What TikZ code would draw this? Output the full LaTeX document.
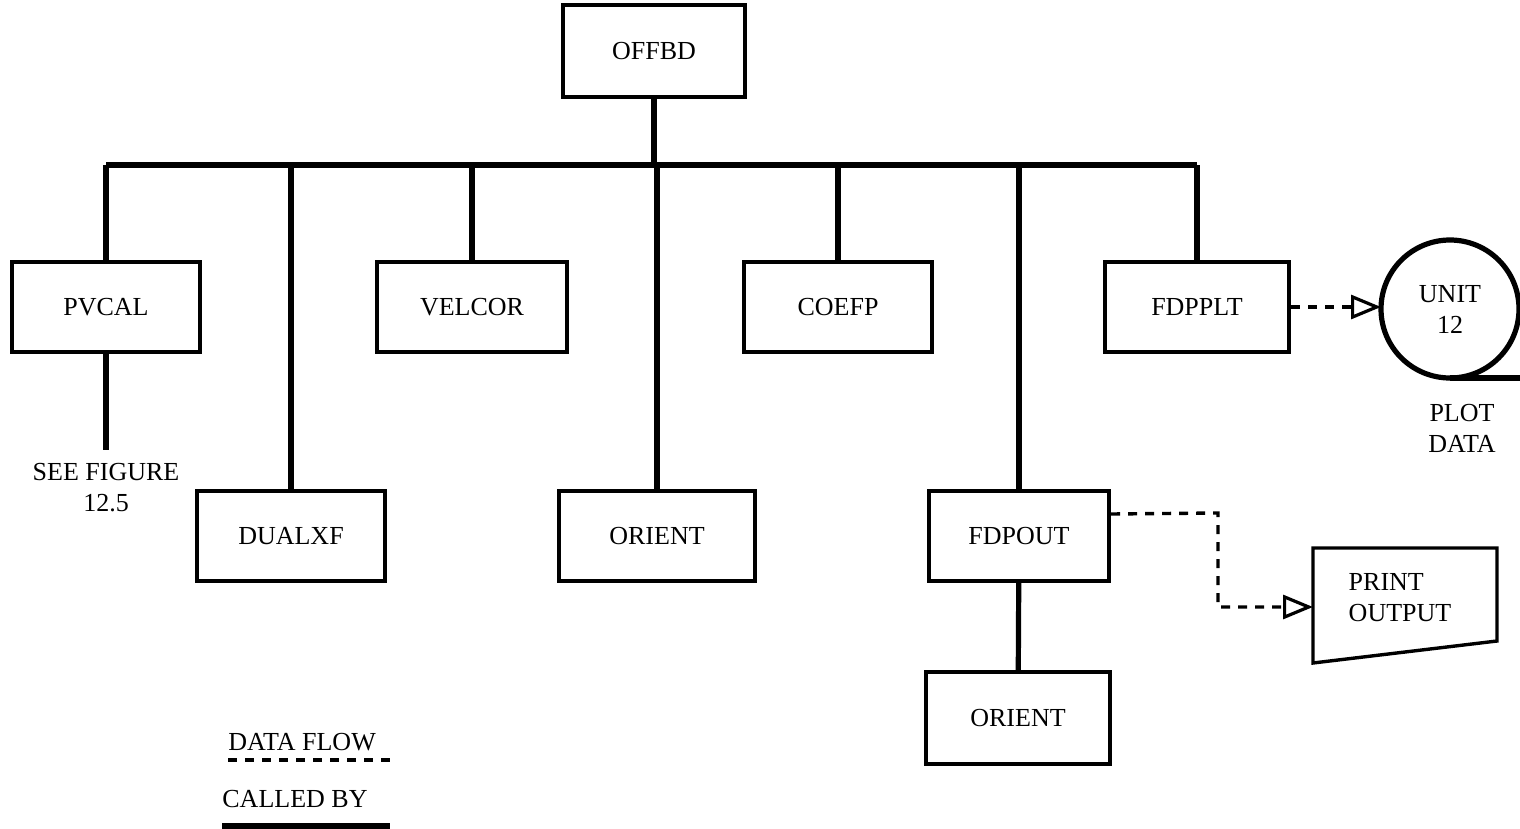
\documentclass[tikz,border=0pt]{standalone}
\usepackage{fontspec}
\setmainfont{Liberation Serif}
\usetikzlibrary{arrows.meta, positioning}

\begin{document}
\begin{tikzpicture}[x=0.5pt,y=-0.5pt,
  font=\fontsize{13}{15.5}\selectfont,
  modbox/.style={draw,line width=2.2pt,minimum width=94pt,minimum height=45pt,inner sep=0pt},
  calledby/.style={line width=2.6pt},
  dataflow/.style={line width=1.7pt,dash pattern=on 4.5pt off 4pt},
  flowtip/.style={-{Triangle[open,length=15pt,width=12pt,line width=1.6pt]}}]
\useasboundingbox (0,0) rectangle (1520,829);
\node[modbox,minimum width=91pt,minimum height=46pt] (boxOffbd) at (654,51) {OFFBD};
\coordinate (bus) at (654,165);
\node[modbox] (boxPvcal) at (106,307) {PVCAL};
\node[modbox,minimum width=95pt] (boxVelcor) at (472,307) {VELCOR};
\node[modbox] (boxCoefp) at (838,307) {COEFP};
\node[modbox,minimum width=92pt] (boxFdpplt) at (1197,307) {FDPPLT};
\node[modbox] (boxDualxf) at (291,536) {DUALXF};
\node[modbox,minimum width=98pt] (boxOrientA) at (657,536) {ORIENT};
\node[modbox,minimum width=90pt] (boxFdpout) at (1019,536) {FDPOUT};
\node[modbox,minimum width=92pt,minimum height=46pt] (boxOrientB) at (1018,718) {ORIENT};
\node[align=center] (figRef) at (106,488) {SEE FIGURE\\12.5};
\coordinate (figEnd) at (103,450);
\draw[calledby] (boxOffbd) -- (bus);
\draw[calledby] (boxPvcal.north |- bus) -- (boxFdpplt.north |- bus);
\foreach \kid in {boxPvcal,boxDualxf,boxVelcor,boxOrientA,boxCoefp,boxFdpout,boxFdpplt}
  \draw[calledby] (\kid.north) -- (\kid.north |- bus);
\draw[calledby] (boxPvcal.south) -- (boxPvcal.south |- figEnd);
\draw[calledby] (boxFdpout) -- (boxOrientB);
\node[circle,draw,line width=2.6pt,minimum size=69pt,inner sep=0pt,outer sep=0pt,align=center] (unitTape) at (1450,309) {UNIT\\12};
\draw[calledby] (unitTape.south) -- ++(72,0);
\node[align=center] (plotData) at (1462,428) {PLOT\\DATA};
\draw[dataflow,flowtip] (boxFdpplt.east) -- (boxFdpplt.east -| unitTape.west);
\draw[line width=1.7pt] (1313,548) -- (1497,548) -- (1497,641) -- (1313,663) -- cycle;
\node[align=left] (printOut) at (1400,598) {PRINT\\OUTPUT};
\coordinate (printIn) at (1313,607);
\draw[dataflow,flowtip] ([yshift=11pt]boxFdpout.east) -- (1218,513) |- (printIn);
\node[anchor=west,inner sep=0pt] (lgFlow) at (228,742) {DATA FLOW};
\draw[dataflow] (lgFlow.west |- 0,760) -- (390,760);
\node[anchor=west,inner sep=0pt] (lgCalled) at (222,799) {CALLED BY};
\draw[calledby] (lgCalled.west |- 0,826) -- (390,826);
\end{tikzpicture}
\end{document}
